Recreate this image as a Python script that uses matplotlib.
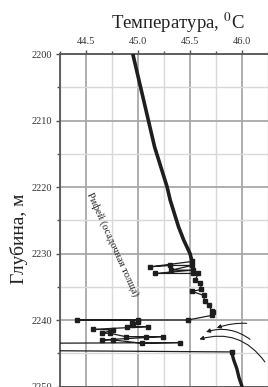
import matplotlib.pyplot as plt
import numpy as np
from matplotlib.ticker import MultipleLocator

plt.rcParams['font.family'] = ['Liberation Serif', 'DejaVu Serif']
plt.rcParams['mathtext.fontset'] = 'stix'

# верхний участок термограммы (плавный)
depth_top = [2200, 2202, 2204, 2206, 2208, 2210, 2212, 2214, 2216, 2218,
             2220, 2222, 2224, 2226, 2228, 2230, 2231.2]
temp_top = [44.95, 44.98, 45.01, 45.04, 45.07, 45.10, 45.13, 45.16, 45.20, 45.24,
            45.28, 45.31, 45.35, 45.39, 45.44, 45.50, 45.52]

# аномальный участок (выбросы)
depth_mid = [2231.2, 2232.0, 2231.8, 2231.8, 2232.5, 2232.5, 2233.0, 2233.0, 2233.0,
             2234.0, 2234.5, 2235.4, 2235.7, 2236.3, 2237.1, 2237.8, 2238.6, 2238.8,
             2239.3, 2240.0, 2240.0, 2240.0, 2240.3, 2240.5, 2240.8, 2241.0, 2241.0,
             2241.4, 2241.5, 2242.0, 2242.0, 2242.5, 2242.5, 2242.5, 2243.0, 2243.0,
             2243.5, 2243.4, 2243.5, 2244.6, 2244.8]
temp_mid = [45.52, 45.12, 45.31, 45.52, 45.32, 45.53, 45.16, 45.53, 45.58,
            45.55, 45.60, 45.61, 45.52, 45.63, 45.64, 45.68, 45.71, 45.72,
            45.71, 45.48, 44.41, 45.00, 45.00, 44.94, 44.95, 44.89, 45.10,
            44.57, 44.76, 44.65, 44.73, 44.88, 45.08, 45.24, 44.65, 44.76,
            45.04, 45.40, 44.00, 44.00, 45.90]

# нижний участок
depth_bot = [2244.8, 2246.0, 2247.3, 2248.6, 2250.0]
temp_bot = [45.90, 45.92, 45.95, 45.97, 46.00]

# стрелки: (начало), (конец), кривизна
arrows = [((46.045, 2240.5), (45.757, 2241.2), 0.1),
          ((46.077, 2242.9), (45.654, 2241.8), 0.25),
          ((46.22, 2246.3), (45.59, 2242.9), 0.35)]

fig = plt.figure(figsize=(2.68, 3.87), dpi=100)
ax = fig.add_axes([60 / 268, 0.5 / 387, 208 / 268, 332.5 / 387])

ax.set_xlim(44.25, 46.25)
ax.set_ylim(2250, 2200)

ax.xaxis.set_major_locator(MultipleLocator(0.5))
ax.xaxis.set_minor_locator(MultipleLocator(0.25))
ax.yaxis.set_major_locator(MultipleLocator(10))
ax.yaxis.set_minor_locator(MultipleLocator(5))
ax.xaxis.set_major_formatter(lambda v, p: f'{v:.1f}')
ax.yaxis.set_major_formatter(lambda v, p: f'{v:.0f}')

ax.grid(which='major', color='#a8a8a8', lw=1.3)
ax.grid(which='minor', color='#d8d8d8', lw=1.0)
ax.set_axisbelow(True)

lc = '#1e1e1e'
ax.plot(temp_top, depth_top, '-', color=lc, lw=2.6, solid_capstyle='butt', zorder=3)
ax.plot(temp_mid, depth_mid, '-s', color=lc, lw=0.9, ms=2.2, zorder=3)
ax.plot(temp_bot, depth_bot, '-', color=lc, lw=2.4, zorder=3)

for (x0, y0), (x1, y1), rad in arrows:
    ax.annotate('', xy=(x1, y1), xytext=(x0, y0),
                arrowprops=dict(arrowstyle='-|>', color=lc, lw=0.8,
                                mutation_scale=6,
                                connectionstyle=f'arc3,rad={rad}',
                                shrinkA=0, shrinkB=0))

ax.text(44.756, 2228.7, 'Рифей (осадочная толща)', rotation=-65.7,
        rotation_mode='anchor', ha='center', va='center', fontsize=7.5, color='#222')

ax.xaxis.tick_top()
ax.xaxis.set_label_position('top')
ax.tick_params(which='major', direction='out', length=3, width=1, color='#555',
               labelsize=7.5, pad=2.5)
ax.tick_params(which='minor', direction='out', length=2, width=1, color='#555')
ax.tick_params(axis='x', which='both', bottom=False, top=True)
ax.tick_params(axis='y', which='both', right=False)
for lab in ax.get_xticklabels() + ax.get_yticklabels():
    lab.set_color('#333')

for s in ['left', 'top', 'bottom']:
    ax.spines[s].set_color('#555')
    ax.spines[s].set_linewidth(1.3)
ax.spines['right'].set_visible(False)

ax.set_title('Температура, $^{0}$C', fontsize=13.5, x=0.565, pad=6, color='#222')
ax.set_ylabel('Глубина, м', fontsize=14, color='#222')
ax.yaxis.set_label_coords(-0.155, 0.444)

fig.savefig('out.png', dpi=100)
